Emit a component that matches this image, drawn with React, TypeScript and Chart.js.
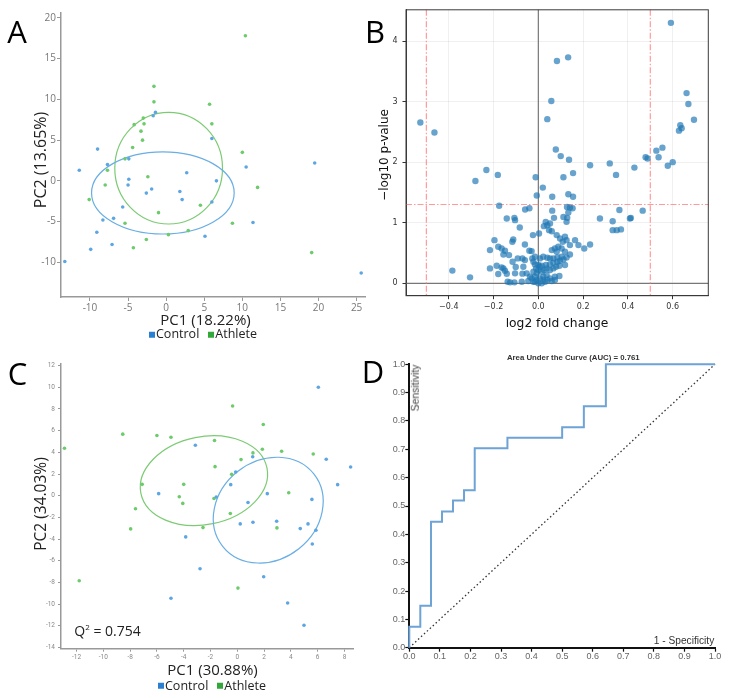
import React, { useEffect, useRef } from "react";
import { Chart, registerables } from "chart.js";
Chart.register(...registerables);

// ---------------- Panel A: PCA ----------------
const pcaA_control: [number, number][] = [
  [-1.4, 8.4], [-1.7, 8.0], [6.0, 5.2], [-9.0, 3.9], [-7.7, 2.0], [-4.9, 2.7], [10.5, 1.7], [19.5, 2.2],
  [-11.4, 1.3], [2.7, 1.0], [-4.9, 0.2], [-5.0, -0.5], [-1.9, -1.0], [-2.6, -1.5], [1.8, -1.3], [2.1, -2.3],
  [6.6, 0.0], [6.0, -2.6], [-5.7, -3.2], [-6.9, -4.6], [-8.3, -4.8], [-9.1, -6.3], [-7.1, -7.8], [-9.9, -8.4],
  [-13.3, -9.9], [5.1, -6.8], [11.4, -5.1], [25.6, -11.3],
];
const pcaA_athlete: [number, number][] = [
  [10.4, 17.8], [-1.6, 11.6], [-1.6, 9.7], [5.7, 9.4], [-3.0, 7.7], [-4.2, 6.9], [-2.9, 7.0], [6.0, 7.0],
  [-3.3, 6.1], [-3.1, 5.0], [-4.4, 4.1], [10.0, 3.5], [-5.4, 2.7], [-7.7, 1.3], [-2.4, 0.5], [-8.0, -0.5],
  [-10.1, -2.3], [-1.0, -3.9], [4.5, -3.0], [-5.4, -5.2], [8.7, -5.2], [12.0, -0.8], [2.9, -6.1], [0.3, -6.6],
  [-2.6, -7.2], [-4.3, -8.2], [19.1, -8.8],
];
const pcaA_xTicks = [-10, -5, 0, 5, 10, 15, 20, 25];
const pcaA_yTicks = [-10, -5, 0, 5, 10, 15, 20];
// ellipse: centre, half-extent along x and y, correlation
const pcaA_ellipseAthlete = { cx: 0.33, cy: 1.56, rx: 7.07, ry: 6.85, rho: 0 };
const pcaA_ellipseControl = { cx: -0.43, cy: -1.48, rx: 9.36, ry: 5.04, rho: 0 };

// ---------------- Panel B: volcano ----------------
const volcano_points: [number, number][] = [
  [-0.527, 2.655], [-0.464, 2.49], [0.592, 4.30], [0.083, 3.67], [0.133, 3.73], [0.058, 3.01], [0.040, 2.71],
  [0.662, 3.14], [0.670, 2.96], [0.695, 2.70], [0.634, 2.61], [0.640, 2.56], [0.628, 2.52], [0.078, 2.21],
  [0.100, 2.10], [0.137, 2.04], [0.554, 2.24], [0.527, 2.19], [0.479, 2.08], [0.488, 2.06], [0.537, 2.08],
  [-0.232, 1.87], [-0.181, 1.79], [-0.281, 1.69], [-0.012, 1.75], [0.112, 1.75], [0.155, 1.82], [0.020, 1.58],
  [-0.007, 1.45], [0.062, 1.43], [0.134, 1.47], [0.155, 1.43], [0.231, 1.95], [0.319, 1.98], [0.347, 1.79],
  [0.429, 1.91], [0.578, 1.94], [0.600, 2.00],
  [-0.175, 1.28], [-0.059, 1.22], [-0.040, 1.24], [0.062, 1.20], [0.128, 1.26], [0.141, 1.25], [0.153, 1.24],
  [0.134, 1.17], [0.362, 1.21], [0.466, 1.20], [0.409, 1.07], [0.413, 1.08], [0.369, 0.89], [-0.384, 0.21],
  [-0.141, 1.070], [-0.107, 1.081], [-0.104, 1.043], [0.033, 1.015], [0.070, 1.081], [0.112, 1.097],
  [0.129, 1.081], [0.126, 1.015], [0.275, 1.070], [0.332, 1.026], [-0.083, 0.922], [0.040, 0.960],
  [0.052, 0.988], [0.025, 0.944], [0.048, 0.878], [0.060, 0.861], [0.332, 0.878], [0.350, 0.878],
  [-0.024, 0.796], [0.003, 0.823], [0.082, 0.796], [0.097, 0.741], [0.119, 0.768], [0.126, 0.713],
  [0.109, 0.686], [-0.196, 0.713], [-0.112, 0.724], [-0.116, 0.686], [0.164, 0.713], [-0.060, 0.642],
  [0.141, 0.631], [0.179, 0.631], [0.205, 0.576], [0.231, 0.642], [0.089, 0.604], [0.074, 0.576],
  [0.060, 0.549], [0.082, 0.521], [0.104, 0.576], [0.119, 0.521], [-0.216, 0.549], [-0.179, 0.604],
  [-0.164, 0.576], [-0.149, 0.538], [-0.040, 0.538], [-0.030, 0.532], [-0.156, 0.477], [-0.131, 0.466],
  [0.141, 0.477], [0.126, 0.428], [0.112, 0.395], [0.097, 0.373], [0.085, 0.357], [-0.015, 0.439],
  [0.007, 0.412], [0.022, 0.439], [0.040, 0.422], [0.052, 0.412], [0.067, 0.412], [0.085, 0.428],
  [0.104, 0.439], [-0.027, 0.412], [-0.092, 0.412], [-0.071, 0.412], [-0.060, 0.384], [-0.115, 0.357],
  [-0.022, 0.357], [0.067, 0.340], [0.052, 0.313], [0.034, 0.302], [0.015, 0.291], [0.000, 0.302],
  [-0.015, 0.313], [-0.186, 0.291], [-0.164, 0.263], [-0.156, 0.247], [-0.149, 0.209], [-0.216, 0.247],
  [-0.067, 0.274], [0.119, 0.302], [0.094, 0.291], [0.079, 0.274], [0.067, 0.247], [0.037, 0.247],
  [0.052, 0.219], [0.025, 0.219], [0.000, 0.219], [0.015, 0.192], [-0.010, 0.247], [0.007, 0.274],
  [-0.179, 0.154], [-0.141, 0.159], [-0.104, 0.165], [-0.052, 0.165], [-0.037, 0.110], [-0.030, 0.082],
  [-0.015, 0.110], [-0.007, 0.165], [-0.022, 0.192], [0.037, 0.137], [0.052, 0.082], [0.074, 0.110],
  [0.094, 0.121], [0.022, 0.110], [0.007, 0.082], [-0.137, 0.027], [-0.126, 0.016], [-0.107, 0.016],
  [-0.074, 0.027], [-0.045, 0.038], [-0.015, 0.027], [0.000, 0.000], [0.015, 0.000], [0.030, 0.027],
  [0.040, 0.055], [0.060, 0.038], [0.074, 0.055], [-0.007, 0.055], [-0.022, 0.027], [0.022, 0.055],
  [-0.305, 0.099], [-0.101, 0.27], [-0.071, 0.16],
];
const volcano_fcCutoffs = [-0.5, 0.5];
const volcano_pCutoff = [1.301];
const volcano_zeroX = [0];
const volcano_zeroY = [0];
const volcano_xTicks = [-0.4, -0.2, 0.0, 0.2, 0.4, 0.6];
const volcano_yTicks = [0, 1, 2, 3, 4];

// ---------------- Panel C: PCA ----------------
const pcaC_control: [number, number][] = [
  [6.05, 10.0], [-3.13, 4.66], [1.15, 3.6], [6.64, 3.36], [8.46, 2.65], [-0.12, 2.19], [-0.49, 1.02],
  [7.49, 1.02], [-5.87, 0.19], [-1.57, -0.12], [2.24, 0.19], [5.57, -0.34], [0.8, -0.62], [-3.85, -3.8],
  [0.22, -2.6], [1.17, -2.44], [2.94, -2.35], [4.7, -3.03], [5.28, -2.6], [5.87, -3.18], [5.6, -4.45],
  [-2.78, -6.73], [1.97, -7.47], [-4.95, -9.45], [3.76, -9.9], [4.98, -11.95],
];
const pcaC_athlete: [number, number][] = [
  [-12.9, 4.38], [-8.55, 5.68], [-6.0, 5.55], [-4.95, 5.4], [-1.7, 5.1], [-0.35, 8.27], [1.94, 6.57],
  [1.87, 4.29], [1.17, 3.95], [0.28, 3.33], [-1.66, 2.68], [-0.42, 1.97], [3.31, 4.1], [5.67, 3.85],
  [3.84, 0.27], [-4.0, 1.05], [-7.1, 1.05], [-4.33, -0.1], [-4.07, -0.71], [-1.74, -0.25], [-7.6, -1.2],
  [-0.52, -1.64], [-7.96, -3.06], [-2.56, -2.94], [2.96, -2.97], [-11.8, -7.84], [0.05, -8.52],
];
const pcaC_xTicks = [-12, -10, -8, -6, -4, -2, 0, 2, 4, 6, 8];
const pcaC_yTicks = [-14, -12, -10, -8, -6, -4, -2, 0, 2, 4, 6, 8, 10, 12];
const pcaC_ellipseAthlete = { cx: -2.49, cy: 1.39, rx: 4.75, ry: 4.14, rho: 0.15 };
const pcaC_ellipseControl = { cx: 2.31, cy: -1.33, rx: 4.1, ry: 4.88, rho: 0.16 };
const pcaC_q2 = "0.754";

// ---------------- Panel D: ROC ----------------
const roc_fpr = [0, 0, 0.036, 0.036, 0.071, 0.071, 0.107, 0.107, 0.143, 0.143, 0.179, 0.179, 0.214, 0.214,
  0.321, 0.321, 0.5, 0.5, 0.571, 0.571, 0.643, 0.643, 1.0];
const roc_tpr = [0, 0.074, 0.074, 0.148, 0.148, 0.444, 0.444, 0.481, 0.481, 0.519, 0.519, 0.556, 0.556,
  0.704, 0.704, 0.741, 0.741, 0.778, 0.778, 0.852, 0.852, 1.0, 1.0];
const roc_chance = [0, 1];
const roc_ticks = [0, 0.1, 0.2, 0.3, 0.4, 0.5, 0.6, 0.7, 0.8, 0.9, 1.0];
const roc_auc = "0.761";

// ---------------- styling ----------------
const BLUE_PT = "#5ea6e3";
const GREEN_PT = "#6ccb6a";
const BLUE_EL = "#6aaee3";
const GREEN_EL = "#7ccb74";
const BLUE_LEG = "#2a7fd0";
const GREEN_LEG = "#33a83a";
const SEGOE = "'Open Sans', 'Noto Sans', sans-serif";

const toXY = (arr: [number, number][]) => arr.map(([x, y]) => ({ x, y }));

function setTicks(values: number[]) {
  return (scale: any) => {
    scale.ticks = values.map((v) => ({ value: v }));
  };
}

function ellipsePlugin(items: { e: any; color: string; width: number }[]) {
  return {
    id: "ellipses",
    beforeDatasetsDraw(chart: any) {
      const { ctx } = chart;
      const sx = chart.scales.x;
      const sy = chart.scales.y;
      ctx.save();
      for (const it of items) {
        const e = it.e;
        const px = sx.getPixelForValue(e.cx);
        const py = sy.getPixelForValue(e.cy);
        const Rx = Math.abs(sx.getPixelForValue(e.cx + e.rx) - px);
        const Ry = Math.abs(sy.getPixelForValue(e.cy + e.ry) - py);
        const sxx = Rx * Rx;
        const syy = Ry * Ry;
        const sxy = -e.rho * Rx * Ry;
        const mean = (sxx + syy) / 2;
        const d = Math.sqrt(((sxx - syy) / 2) ** 2 + sxy * sxy);
        const a = Math.sqrt(mean + d);
        const b = Math.sqrt(Math.max(mean - d, 0));
        const theta = 0.5 * Math.atan2(2 * sxy, sxx - syy);
        ctx.beginPath();
        ctx.ellipse(px, py, a, b, theta, 0, Math.PI * 2);
        ctx.strokeStyle = it.color;
        ctx.lineWidth = it.width;
        ctx.stroke();
      }
      ctx.restore();
    },
  };
}

const volcanoLinesPlugin = {
  id: "volcanoLines",
  beforeDatasetsDraw(chart: any) {
    const { ctx, chartArea } = chart;
    const sx = chart.scales.x;
    const sy = chart.scales.y;
    ctx.save();
    ctx.lineWidth = 1.2;
    ctx.strokeStyle = "#777";
    for (const v of volcano_zeroX) {
      const p = sx.getPixelForValue(v);
      ctx.beginPath(); ctx.moveTo(p, chartArea.top); ctx.lineTo(p, chartArea.bottom); ctx.stroke();
    }
    for (const v of volcano_zeroY) {
      const p = sy.getPixelForValue(v);
      ctx.beginPath(); ctx.moveTo(chartArea.left, p); ctx.lineTo(chartArea.right, p); ctx.stroke();
    }
    ctx.strokeStyle = "rgba(255,120,120,0.75)";
    ctx.lineWidth = 1.2;
    ctx.setLineDash([6, 2, 1.5, 2]);
    for (const v of volcano_fcCutoffs) {
      const p = sx.getPixelForValue(v);
      ctx.beginPath(); ctx.moveTo(p, chartArea.top); ctx.lineTo(p, chartArea.bottom); ctx.stroke();
    }
    for (const v of volcano_pCutoff) {
      const p = sy.getPixelForValue(v);
      ctx.beginPath(); ctx.moveTo(chartArea.left, p); ctx.lineTo(chartArea.right, p); ctx.stroke();
    }
    ctx.restore();
  },
  afterDatasetsDraw(chart: any) {
    const { ctx, chartArea } = chart;
    ctx.save();
    ctx.strokeStyle = "#3a3a3a";
    ctx.lineWidth = 1;
    ctx.strokeRect(chartArea.left, chartArea.top, chartArea.right - chartArea.left, chartArea.bottom - chartArea.top);
    ctx.restore();
  },
};

function pcaScale(opts: {
  axis: "x" | "y"; min: number; max: number; ticks: number[]; size: number;
  font: any; color: string; axisColor: string; tickLen: number; pad: number;
}) {
  return {
    type: "linear",
    min: opts.min,
    max: opts.max,
    afterBuildTicks: setTicks(opts.ticks),
    afterFit: (s: any) => {
      if (opts.axis === "x") s.height = opts.size; else s.width = opts.size;
    },
    grid: { drawOnChartArea: false, drawTicks: true, tickLength: opts.tickLen, tickColor: opts.axisColor, tickWidth: 1 },
    border: { display: true, color: opts.axisColor, width: 1.5 },
    ticks: { autoSkip: false, maxRotation: 0, minRotation: 0, padding: opts.pad, color: opts.color, font: opts.font },
  };
}

function ChartBox(props: { left: number; top: number; width: number; height: number; make: () => any }) {
  const ref = useRef<HTMLCanvasElement>(null);
  useEffect(() => {
    const chart = new Chart(ref.current as HTMLCanvasElement, props.make());
    return () => chart.destroy();
  }, []);
  return (
    <div style={{ position: "absolute", left: props.left, top: props.top, width: props.width, height: props.height }}>
      <canvas ref={ref} width={props.width} height={props.height} style={{ width: props.width, height: props.height, display: "block" }} />
    </div>
  );
}

function Txt(props: { x: number; y: number; children: any; size: number; font?: string; color?: string; rotate?: number; weight?: any; style?: any }) {
  return (
    <div
      style={{
        position: "absolute", left: props.x, top: props.y,
        transform: `translate(-50%, -50%)${props.rotate ? ` rotate(${props.rotate}deg)` : ""}`,
        fontSize: props.size, fontFamily: props.font || SEGOE, color: props.color || "#222",
        fontWeight: props.weight || 400, lineHeight: 1, whiteSpace: "nowrap", ...(props.style || {}),
      }}
    >
      {props.children}
    </div>
  );
}

function Legend(props: { x: number; y: number; size: number }) {
  const sq = (c: string) => (
    <span style={{ display: "inline-block", width: 6, height: 6, background: c, marginRight: 1 }} />
  );
  return (
    <Txt x={props.x} y={props.y} size={props.size} color="#222" style={{ display: "flex", alignItems: "center" }}>
      {sq(BLUE_LEG)}<span>Control</span><span style={{ width: 9 }} />{sq(GREEN_LEG)}<span>Athlete</span>
    </Txt>
  );
}

const baseOpts = {
  responsive: false,
  animation: false,
  devicePixelRatio: 1,
  events: [],
};

function makeA() {
  const f = { family: SEGOE, size: 10 };
  return {
    type: "scatter",
    data: {
      datasets: [
        { label: "Control", data: toXY(pcaA_control), backgroundColor: BLUE_PT, borderWidth: 0, pointRadius: 1.8 },
        { label: "Athlete", data: toXY(pcaA_athlete), backgroundColor: GREEN_PT, borderWidth: 0, pointRadius: 1.8 },
      ],
    },
    options: {
      ...baseOpts,
      layout: { padding: { left: 0, top: 13, right: 5, bottom: 0 } },
      plugins: { legend: { display: false }, tooltip: { enabled: false } },
      scales: {
        x: pcaScale({ axis: "x", min: -13.8, max: 26.1, ticks: pcaA_xTicks, size: 23, font: f, color: "#777", axisColor: "#999", tickLen: 4, pad: 1 }),
        y: pcaScale({ axis: "y", min: -14.25, max: 20.6, ticks: pcaA_yTicks, size: 61, font: f, color: "#777", axisColor: "#999", tickLen: 4, pad: 1 }),
      },
    },
    plugins: [ellipsePlugin([
      { e: pcaA_ellipseAthlete, color: GREEN_EL, width: 1.2 },
      { e: pcaA_ellipseControl, color: BLUE_EL, width: 1.2 },
    ])],
  };
}

function makeB() {
  const f = { family: "'DejaVu Sans', sans-serif", size: 8 };
  const fmt = (v: number) => (v < -1e-9 ? "\u2212" : "") + Math.abs(v).toFixed(1);
  return {
    type: "scatter",
    data: {
      datasets: [
        { label: "genes", data: toXY(volcano_points), backgroundColor: "rgba(31,119,180,0.68)", borderWidth: 0, pointRadius: 3.2 },
      ],
    },
    options: {
      ...baseOpts,
      layout: { padding: { left: 0, top: 9, right: 21.7, bottom: 0 } },
      plugins: { legend: { display: false }, tooltip: { enabled: false } },
      scales: {
        x: {
          type: "linear", min: -0.591, max: 0.759,
          afterBuildTicks: setTicks(volcano_xTicks),
          afterFit: (s: any) => { s.height = 24.3; },
          grid: { color: "rgba(0,0,0,0.06)", tickColor: "#333", tickLength: 3.5, drawTicks: true },
          border: { display: true, color: "#3a3a3a", width: 1 },
          ticks: { autoSkip: false, maxRotation: 0, padding: 3, color: "#333", font: f, callback: (v: any) => fmt(Number(v)) },
        },
        y: {
          type: "linear", min: -0.204, max: 4.515,
          afterBuildTicks: setTicks(volcano_yTicks),
          afterFit: (s: any) => { s.width = 36; },
          grid: { color: "rgba(0,0,0,0.06)", tickColor: "#333", tickLength: 3.5, drawTicks: true },
          border: { display: true, color: "#3a3a3a", width: 1 },
          ticks: { autoSkip: false, padding: 5, color: "#333", font: f, callback: (v: any) => String(Math.round(Number(v))) },
        },
      },
    },
    plugins: [volcanoLinesPlugin],
  };
}

function makeC() {
  const f = { family: "Roboto, sans-serif", size: 6.5 };
  return {
    type: "scatter",
    data: {
      datasets: [
        { label: "Control", data: toXY(pcaC_control), backgroundColor: BLUE_PT, borderWidth: 0, pointRadius: 1.8 },
        { label: "Athlete", data: toXY(pcaC_athlete), backgroundColor: GREEN_PT, borderWidth: 0, pointRadius: 1.8 },
      ],
    },
    options: {
      ...baseOpts,
      layout: { padding: { left: 0, top: 19, right: 16.7, bottom: 0 } },
      plugins: { legend: { display: false }, tooltip: { enabled: false } },
      scales: {
        x: pcaScale({ axis: "x", min: -13.16, max: 8.66, ticks: pcaC_xTicks, size: 16.3, font: f, color: "#888", axisColor: "#999", tickLen: 3, pad: 2 }),
        y: pcaScale({ axis: "y", min: -14.11, max: 12.15, ticks: pcaC_yTicks, size: 61, font: f, color: "#888", axisColor: "#999", tickLen: 3, pad: 3 }),
      },
    },
    plugins: [ellipsePlugin([
      { e: pcaC_ellipseAthlete, color: GREEN_EL, width: 1.2 },
      { e: pcaC_ellipseControl, color: BLUE_EL, width: 1.2 },
    ])],
  };
}

function makeD() {
  const f = { family: "'Liberation Sans', Arial, sans-serif", size: 9 };
  const axis = (which: "x" | "y") => ({
    type: "linear", min: 0, max: 1,
    afterBuildTicks: setTicks(roc_ticks),
    afterFit: (s: any) => { if (which === "x") s.height = 17.3; else s.width = 39.3; },
    grid: { drawOnChartArea: false, drawTicks: true, tickLength: 4, tickColor: "#111", tickWidth: 1.2 },
    border: { display: true, color: "#111", width: 2 },
    ticks: { autoSkip: false, maxRotation: 0, padding: which === "x" ? -1 : 0, color: "#666", font: f, callback: (v: any) => Number(v).toFixed(1) },
  });
  return {
    type: "scatter",
    data: {
      datasets: [
        {
          label: "ROC", data: roc_fpr.map((x, i) => ({ x, y: roc_tpr[i] })), showLine: true, pointRadius: 0,
          borderColor: "#6ea3d6", borderWidth: 2, clip: false,
        },
        {
          label: "chance", data: roc_chance.map((v) => ({ x: v, y: v })), showLine: true, pointRadius: 0,
          borderColor: "#333", borderWidth: 1.3, borderDash: [1.5, 2.5], clip: false,
        },
      ],
    },
    options: {
      ...baseOpts,
      layout: { padding: { left: 0, top: 19.3, right: 15, bottom: 0 } },
      plugins: { legend: { display: false }, tooltip: { enabled: false } },
      scales: { x: axis("x"), y: axis("y") },
    },
  };
}

export default function App() {
  return (
    <div style={{ position: "fixed", left: 0, top: 0, width: 730, height: 698, background: "#fff", overflow: "hidden" }}>
      <ChartBox left={0} top={0} width={370} height={320} make={makeA} />
      <ChartBox left={370} top={0} width={360} height={320} make={makeB} />
      <ChartBox left={0} top={345} width={370} height={320} make={makeC} />
      <ChartBox left={370} top={345} width={360} height={320} make={makeD} />

      {/* Panel letters */}
      <Txt x={17} y={31} size={31} color="#000">A</Txt>
      <Txt x={375} y={31} size={31} color="#000">B</Txt>
      <Txt x={17.5} y={372.5} size={31} color="#000">C</Txt>
      <Txt x={373} y={371} size={31} color="#000">D</Txt>

      {/* Panel A texts */}
      <Txt x={40} y={160} size={16} rotate={-90}>PC2 (13.65%)</Txt>
      <Txt x={205.5} y={319} size={15}>PC1 (18.22%)</Txt>
      <Legend x={203} y={334.3} size={12.5} />

      {/* Panel B texts */}
      <Txt x={384} y={154.5} size={12} rotate={-90} font="'DejaVu Sans', sans-serif" color="#111">{"\u2212log10 p-value"}</Txt>
      <Txt x={557} y={322.7} size={12.3} font="'DejaVu Sans', sans-serif" color="#111">log2 fold change</Txt>

      {/* Panel C texts */}
      <Txt x={41} y={504} size={15.5} rotate={-90}>PC2 (34.03%)</Txt>
      <Txt x={212.5} y={669} size={15}>PC1 (30.88%)</Txt>
      <Legend x={212} y={685.7} size={12.5} />
      <Txt x={107.5} y={630} size={14} color="#222">
        Q<sup style={{ fontSize: 8, verticalAlign: "6px" }}>2</sup> = {pcaC_q2}
      </Txt>

      {/* Panel D texts */}
      <Txt x={573.3} y={358} size={7.8} weight={700} font="'Liberation Sans', Arial, sans-serif" color="#333">
        Area Under the Curve (AUC) = {roc_auc}
      </Txt>
      <Txt x={416} y={388} size={10.4} rotate={-90} font="'Liberation Sans', Arial, sans-serif" color="#444">Sensitivity</Txt>
      <Txt x={684} y={641} size={10.2} font="'Liberation Sans', Arial, sans-serif" color="#333">1 - Specificity</Txt>
    </div>
  );
}
